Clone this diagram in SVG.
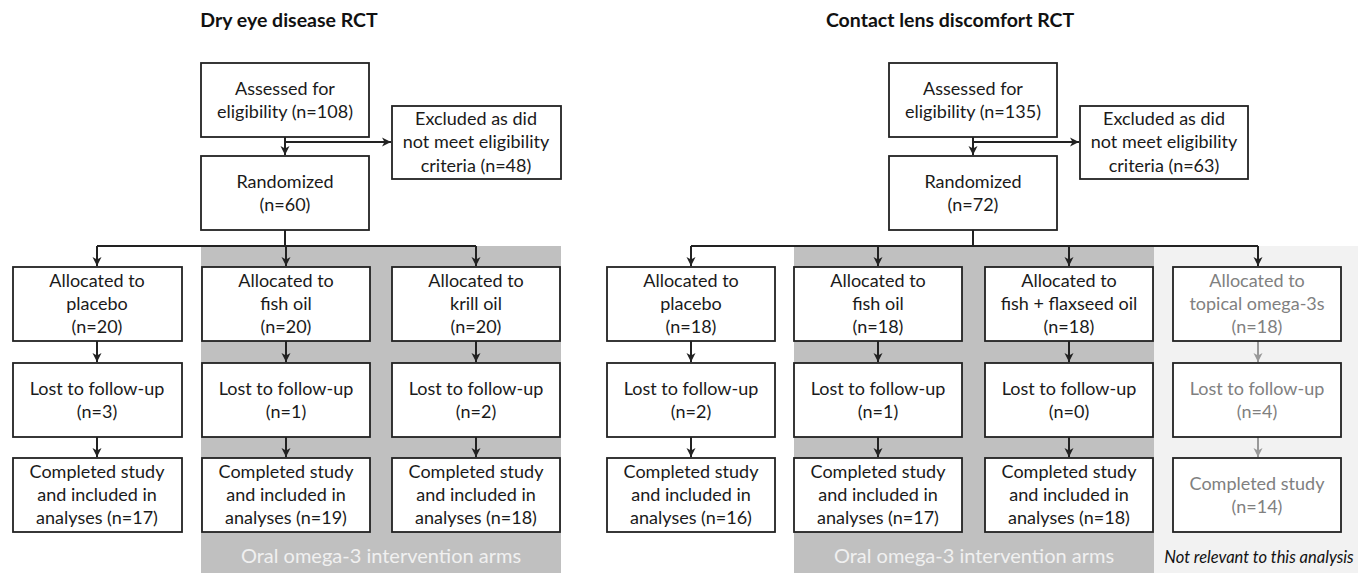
<svg xmlns="http://www.w3.org/2000/svg" width="1358" height="573" viewBox="0 0 1358 573">
<style>
.box{fill:#fff;stroke:#222;stroke-width:1.8}
.t{font-family:Lato,"Open Sans","Liberation Sans",sans-serif;font-size:18px;fill:#1a1a1a;text-anchor:middle}
.g{fill:#808080}
.title{font-family:Lato,"Open Sans","Liberation Sans",sans-serif;font-size:19.5px;font-weight:bold;fill:#111;text-anchor:middle}
.band{font-family:Lato,"Open Sans","Liberation Sans",sans-serif;font-size:20px;fill:#f0f0f0;text-anchor:middle}
.note{font-family:Lato,"Open Sans","Liberation Sans",sans-serif;font-size:16.5px;font-style:italic;fill:#111;text-anchor:middle}
.c{fill:none;stroke:#222;stroke-width:2}
.cg{fill:none;stroke:#999;stroke-width:2}
</style>
<defs>
<marker id="ah" markerUnits="userSpaceOnUse" markerWidth="10" markerHeight="10" refX="9" refY="5" orient="auto">
<path d="M0,0.5 L9,5 L0,9.5 L2.5,5 z" fill="#222"/>
</marker>
<marker id="ahg" markerUnits="userSpaceOnUse" markerWidth="10" markerHeight="10" refX="9" refY="5" orient="auto">
<path d="M0,0.5 L9,5 L0,9.5 L2.5,5 z" fill="#999"/>
</marker>
</defs>
<rect width="1358" height="573" fill="#fff"/>
<!-- background bands -->
<rect x="201" y="246" width="360" height="327" fill="#c0c0c0"/>
<rect x="794" y="246" width="360" height="327" fill="#c0c0c0"/>
<rect x="1154" y="246" width="204" height="327" fill="#f2f2f2"/>
<text class="band" x="381" y="563">Oral omega-3 intervention arms</text>
<text class="band" x="974" y="563">Oral omega-3 intervention arms</text>
<text class="note" x="1259" y="563">Not relevant to this analysis</text>
<text class="title" x="289" y="27">Dry eye disease RCT</text>
<text class="title" x="950" y="27">Contact lens discomfort RCT</text>

<g id="connectors">
<path class="c" d="M285,137 V155" marker-end="url(#ah)"/>
<path class="c" d="M285,142 H391" marker-end="url(#ah)"/>
<path class="c" d="M285,230 V246 M97,246 H476"/>
<path class="c" d="M97,246 V266" marker-end="url(#ah)"/>
<path class="c" d="M286,246 V266" marker-end="url(#ah)"/>
<path class="c" d="M476,246 V266" marker-end="url(#ah)"/>
<path class="c" d="M97,341 V362" marker-end="url(#ah)"/>
<path class="c" d="M286,341 V362" marker-end="url(#ah)"/>
<path class="c" d="M476,341 V362" marker-end="url(#ah)"/>
<path class="c" d="M97,437 V457" marker-end="url(#ah)"/>
<path class="c" d="M286,437 V457" marker-end="url(#ah)"/>
<path class="c" d="M476,437 V457" marker-end="url(#ah)"/>

<path class="c" d="M973,137 V155" marker-end="url(#ah)"/>
<path class="c" d="M973,142 H1079" marker-end="url(#ah)"/>
<path class="c" d="M973,230 V246 M691,246 H1258"/>
<path class="c" d="M691,246 V266" marker-end="url(#ah)"/>
<path class="c" d="M878,246 V266" marker-end="url(#ah)"/>
<path class="c" d="M1069,246 V266" marker-end="url(#ah)"/>
<path class="c" d="M1258,246 V266" marker-end="url(#ah)"/>
<path class="c" d="M691,341 V362" marker-end="url(#ah)"/>
<path class="c" d="M878,341 V362" marker-end="url(#ah)"/>
<path class="c" d="M1069,341 V362" marker-end="url(#ah)"/>
<path class="cg" d="M1258,341 V362" marker-end="url(#ahg)"/>
<path class="c" d="M691,437 V457" marker-end="url(#ah)"/>
<path class="c" d="M878,437 V457" marker-end="url(#ah)"/>
<path class="c" d="M1069,437 V457" marker-end="url(#ah)"/>
<path class="cg" d="M1258,437 V457" marker-end="url(#ahg)"/>
</g>

<!-- Left diagram -->
<g id="L-assessed"><rect class="box" x="201" y="63" width="168" height="74"/>
<text class="t" x="285" y="95">Assessed for</text><text class="t" x="285" y="118">eligibility (n=108)</text></g>
<g id="L-excluded"><rect class="box" x="392" y="106" width="169" height="73"/>
<text class="t" x="476" y="125">Excluded as did</text><text class="t" x="476" y="148">not meet eligibility</text><text class="t" x="476" y="172">criteria (n=48)</text></g>
<g id="L-randomized"><rect class="box" x="201" y="156" width="168" height="74"/>
<text class="t" x="285" y="188">Randomized</text><text class="t" x="285" y="211">(n=60)</text></g>

<g id="L-alloc-placebo"><rect class="box" x="13" y="267" width="169" height="74"/>
<text class="t" x="97" y="287">Allocated to</text><text class="t" x="97" y="310">placebo</text><text class="t" x="97" y="333">(n=20)</text></g>
<g id="L-alloc-fish"><rect class="box" x="202" y="267" width="168" height="74"/>
<text class="t" x="286" y="287">Allocated to</text><text class="t" x="286" y="310">fish oil</text><text class="t" x="286" y="333">(n=20)</text></g>
<g id="L-alloc-krill"><rect class="box" x="392" y="267" width="168" height="74"/>
<text class="t" x="476" y="287">Allocated to</text><text class="t" x="476" y="310">krill oil</text><text class="t" x="476" y="333">(n=20)</text></g>

<g id="L-lost-placebo"><rect class="box" x="13" y="363" width="169" height="74"/>
<text class="t" x="97" y="395">Lost to follow-up</text><text class="t" x="97" y="418">(n=3)</text></g>
<g id="L-lost-fish"><rect class="box" x="202" y="363" width="168" height="74"/>
<text class="t" x="286" y="395">Lost to follow-up</text><text class="t" x="286" y="418">(n=1)</text></g>
<g id="L-lost-krill"><rect class="box" x="392" y="363" width="168" height="74"/>
<text class="t" x="476" y="395">Lost to follow-up</text><text class="t" x="476" y="418">(n=2)</text></g>

<g id="L-comp-placebo"><rect class="box" x="13" y="458" width="169" height="74"/>
<text class="t" x="97" y="478">Completed study</text><text class="t" x="97" y="501">and included in</text><text class="t" x="97" y="524">analyses (n=17)</text></g>
<g id="L-comp-fish"><rect class="box" x="202" y="458" width="168" height="74"/>
<text class="t" x="286" y="478">Completed study</text><text class="t" x="286" y="501">and included in</text><text class="t" x="286" y="524">analyses (n=19)</text></g>
<g id="L-comp-krill"><rect class="box" x="392" y="458" width="168" height="74"/>
<text class="t" x="476" y="478">Completed study</text><text class="t" x="476" y="501">and included in</text><text class="t" x="476" y="524">analyses (n=18)</text></g>

<!-- Right diagram -->
<g id="R-assessed"><rect class="box" x="889" y="63" width="168" height="74"/>
<text class="t" x="973" y="95">Assessed for</text><text class="t" x="973" y="118">eligibility (n=135)</text></g>
<g id="R-excluded"><rect class="box" x="1080" y="106" width="168" height="73"/>
<text class="t" x="1164" y="125">Excluded as did</text><text class="t" x="1164" y="148">not meet eligibility</text><text class="t" x="1164" y="172">criteria (n=63)</text></g>
<g id="R-randomized"><rect class="box" x="889" y="156" width="168" height="74"/>
<text class="t" x="973" y="188">Randomized</text><text class="t" x="973" y="211">(n=72)</text></g>

<g id="R-alloc-placebo"><rect class="box" x="607" y="267" width="168" height="74"/>
<text class="t" x="691" y="287">Allocated to</text><text class="t" x="691" y="310">placebo</text><text class="t" x="691" y="333">(n=18)</text></g>
<g id="R-alloc-fish"><rect class="box" x="794" y="267" width="168" height="74"/>
<text class="t" x="878" y="287">Allocated to</text><text class="t" x="878" y="310">fish oil</text><text class="t" x="878" y="333">(n=18)</text></g>
<g id="R-alloc-flax"><rect class="box" x="985" y="267" width="168" height="74"/>
<text class="t" x="1069" y="287">Allocated to</text><text class="t" x="1069" y="310">fish + flaxseed oil</text><text class="t" x="1069" y="333">(n=18)</text></g>
<g id="R-alloc-topical"><rect class="box" x="1173" y="267" width="168" height="74"/>
<text class="t g" x="1257" y="287">Allocated to</text><text class="t g" x="1257" y="310">topical omega-3s</text><text class="t g" x="1257" y="333">(n=18)</text></g>

<g id="R-lost-placebo"><rect class="box" x="607" y="363" width="168" height="74"/>
<text class="t" x="691" y="395">Lost to follow-up</text><text class="t" x="691" y="418">(n=2)</text></g>
<g id="R-lost-fish"><rect class="box" x="794" y="363" width="168" height="74"/>
<text class="t" x="878" y="395">Lost to follow-up</text><text class="t" x="878" y="418">(n=1)</text></g>
<g id="R-lost-flax"><rect class="box" x="985" y="363" width="168" height="74"/>
<text class="t" x="1069" y="395">Lost to follow-up</text><text class="t" x="1069" y="418">(n=0)</text></g>
<g id="R-lost-topical"><rect class="box" x="1173" y="363" width="168" height="74"/>
<text class="t g" x="1257" y="395">Lost to follow-up</text><text class="t g" x="1257" y="418">(n=4)</text></g>

<g id="R-comp-placebo"><rect class="box" x="607" y="458" width="168" height="74"/>
<text class="t" x="691" y="478">Completed study</text><text class="t" x="691" y="501">and included in</text><text class="t" x="691" y="524">analyses (n=16)</text></g>
<g id="R-comp-fish"><rect class="box" x="794" y="458" width="168" height="74"/>
<text class="t" x="878" y="478">Completed study</text><text class="t" x="878" y="501">and included in</text><text class="t" x="878" y="524">analyses (n=17)</text></g>
<g id="R-comp-flax"><rect class="box" x="985" y="458" width="168" height="74"/>
<text class="t" x="1069" y="478">Completed study</text><text class="t" x="1069" y="501">and included in</text><text class="t" x="1069" y="524">analyses (n=18)</text></g>
<g id="R-comp-topical"><rect class="box" x="1173" y="458" width="168" height="74"/>
<text class="t g" x="1257" y="490">Completed study</text><text class="t g" x="1257" y="513">(n=14)</text></g>
</svg>
